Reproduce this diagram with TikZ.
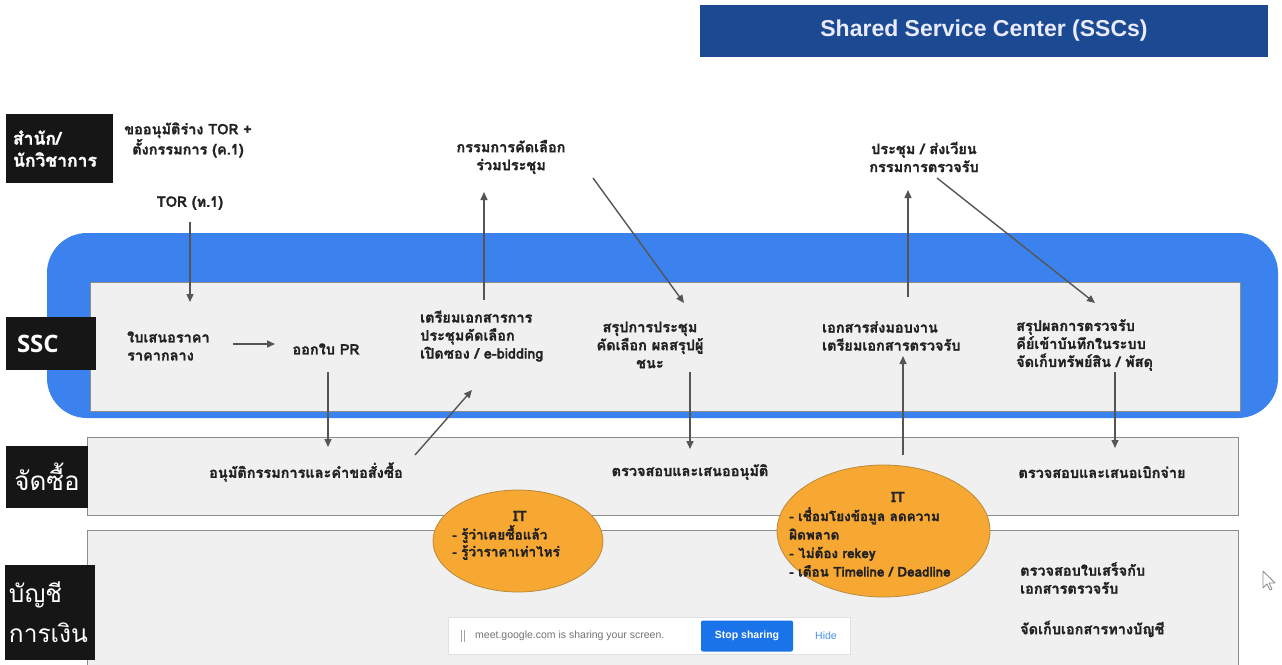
\documentclass[tikz,border=0pt]{standalone}
\usepackage{fontspec}
\setmainfont[Script=Thai, BoldFeatures={FakeBold=1.3}]{Loma}
\newfontfamily\headfont{Liberation Sans}
\newfontfamily\lblfont{Open Sans}
\usetikzlibrary{shapes.geometric,arrows.meta}

\definecolor{hdrblue}{HTML}{1B4A93}
\definecolor{sscblue}{HTML}{3B82EE}
\definecolor{rowgray}{HTML}{F0F0F0}
\definecolor{rowline}{HTML}{8C8C8C}
\definecolor{itorange}{HTML}{F6A833}
\definecolor{itline}{HTML}{B98A3E}
\definecolor{flowgray}{HTML}{555555}
\definecolor{lblblack}{HTML}{161616}
\definecolor{txtdark}{HTML}{222222}
\definecolor{meetblue}{HTML}{1A73E8}

\tikzset{
  lane/.style={fill=lblblack, text=white, inner sep=0pt, align=left},
  row/.style={fill=rowgray, draw=rowline, line width=0.8pt},
  txt/.style={font=\bfseries\fontsize{14.5}{18}\selectfont, text=txtdark, inner sep=0pt},
  flow/.style={draw=flowgray, line width=1.4pt, -{Triangle[length=8pt,width=7pt]}},
  itbubble/.style={ellipse, fill=itorange, draw=itline, line width=0.8pt, inner sep=0pt},
}

\begin{document}
\begin{tikzpicture}[x=1pt,y=-1pt]
\useasboundingbox[fill=white] (0,0) rectangle (1282,664);

% title bar
\node[fill=hdrblue, minimum width=568pt, minimum height=52pt, inner sep=0pt,
      text=white!92!blue, font=\headfont\bfseries\fontsize{23}{26}\selectfont]
  (title) at (984,31) {Shared Service Center (SSCs)};

% SSC band and lanes
\fill[sscblue, rounded corners=40pt] (47,233) rectangle (1278,418);
\draw[row] (90,282) rectangle (1240,411);
\draw[row] (87,437) rectangle (1238,515);
\draw[row] (87,530) rectangle (1238,680);

% lane labels
\node[lane, minimum width=107pt, minimum height=69pt, text width=93pt,
      font=\bfseries\fontsize{17.5}{22}\selectfont] (office) at (59.5,148.5) {สำนัก/\\นักวิชาการ};
\node[lane, minimum width=90pt, minimum height=53pt, text width=68pt,
      font=\lblfont\bfseries\fontsize{24}{25}\selectfont] (ssc) at (51,343.5) {SSC};
\node[lane, minimum width=82pt, minimum height=62pt, align=center,
      font=\fontsize{26}{30}\selectfont] (proc) at (47,477) {จัดซื้อ};
\node[lane, minimum width=90pt, minimum height=95pt, text width=82pt,
      font=\fontsize{24.5}{40}\selectfont] (acct) at (50,612) {บัญชี\\การเงิน};

% texts above the SSC band
\node[txt, align=center] (req) at (188,140) {ขออนุมัติร่าง TOR +\\ตั้งกรรมการ (ค.1)};
\node[txt] (tor) at (190,203) {TOR (ท.1)};
\node[txt, align=center] (cmte) at (511,157) {กรรมการคัดเลือก\\ร่วมประชุม};
\node[txt, align=center] (meet) at (924,157) {ประชุม / ส่งเวียน\\กรรมการตรวจรับ};

% SSC lane steps
\node[txt, align=left, anchor=west] (quote) at (127,346) {ใบเสนอราคา\\ราคากลาง};
\node[txt] (pr) at (326,349) {ออกใบ PR};
\node[txt, align=left, anchor=west] (prep) at (420,336) {เตรียมเอกสารการ\\ประชุมคัดเลือก\\เปิดซอง / e-bidding};
\node[txt, align=center] (summ) at (650,345) {สรุปการประชุม\\คัดเลือก ผลสรุปผู้\\ชนะ};
\node[txt, align=left, anchor=west] (deliv) at (822,336) {เอกสารส่งมอบงาน\\เตรียมเอกสารตรวจรับ};
\node[txt, align=left, anchor=west] (insp) at (1016,345) {สรุปผลการตรวจรับ\\คีย์เข้าบันทึกในระบบ\\จัดเก็บทรัพย์สิน / พัสดุ};

% procurement lane
\node[txt] (approve) at (306,472) {อนุมัติกรรมการและคำขอสั่งซื้อ};
\node[txt] (check) at (690,472) {ตรวจสอบและเสนออนุมัติ};
\node[txt] (disb) at (1102,472) {ตรวจสอบและเสนอเบิกจ่าย};

% accounting lane
\node[txt, align=left, anchor=west] (receipt) at (1020,578) {ตรวจสอบใบเสร็จกับ\\เอกสารตรวจรับ};
\node[txt, anchor=west] (archive) at (1020,629) {จัดเก็บเอกสารทางบัญชี};

% IT support bubbles
\node[itbubble, minimum width=170pt, minimum height=102pt] (it1) at (518,541) {};
\node[txt] (it1t) at (520,516) {IT};
\node[txt, align=left, anchor=north west, text width=140pt,
      font=\bfseries\fontsize{13.5}{17}\selectfont] (it1b) at (452,525) {- รู้ว่าเคยซื้อแล้ว\\- รู้ว่าราคาเท่าไหร่};

\node[itbubble, minimum width=213pt, minimum height=132pt] (it2) at (883.5,531) {};
\node[txt] (it2t) at (898,497) {IT};
\node[txt, align=left, anchor=north west, text width=200pt,
      font=\bfseries\fontsize{13.5}{18.5}\selectfont] (it2b) at (789,507) {- เชื่อมโยงข้อมูล ลดความ\\ผิดพลาด\\- ไม่ต้อง rekey\\- เตือน Timeline / Deadline};

% arrow end points
\coordinate (torEnd) at (190,302);
\coordinate (quoteR) at (233,344);
\coordinate (prL) at (275,344);
\coordinate (prDown) at (328,372);
\coordinate (apprIn) at (328,447);
\coordinate (apprOut) at (415,455);
\coordinate (prepIn) at (472,390);
\coordinate (prepUp) at (484,300);
\coordinate (cmteIn) at (484,192);
\coordinate (cmteOut) at (593,178);
\coordinate (summIn) at (684,303);
\coordinate (summDown) at (690,372);
\coordinate (checkIn) at (690,449);
\coordinate (itUp) at (903,455);
\coordinate (delivIn) at (903,356);
\coordinate (delivUp) at (908,297);
\coordinate (meetIn) at (908,190);
\coordinate (meetOut) at (937,178);
\coordinate (inspIn) at (1095,303);
\coordinate (inspDown) at (1115,372);
\coordinate (disbIn) at (1115,448);

% flow arrows
\draw[flow] (tor.south |- 0,222) -- (torEnd);
\draw[flow] (quoteR) -- (prL);
\draw[flow] (prDown) -- (apprIn);
\draw[flow] (apprOut) -- (prepIn);
\draw[flow] (prepUp) -- (cmteIn);
\draw[flow] (cmteOut) -- (summIn);
\draw[flow] (summDown) -- (checkIn);
\draw[flow] (itUp) -- (delivIn);
\draw[flow] (delivUp) -- (meetIn);
\draw[flow] (meetOut) -- (inspIn);
\draw[flow] (inspDown) -- (disbIn);

% screen-sharing bar
\node[fill=white, draw=black!12, line width=0.8pt, minimum width=402pt, minimum height=37pt, inner sep=0pt] (share) at (649,635.5) {};
\draw[black!35, line width=0.8pt] (461,630) -- (461,642) (464,630) -- (464,642);
\node[anchor=west, inner sep=0pt, text=black!55, font=\headfont\fontsize{10.5}{12}\selectfont] (shareTxt) at (475,636) {meet.google.com is sharing your screen.};
\node[fill=meetblue, rounded corners=2pt, minimum width=92pt, minimum height=31pt, inner sep=0pt,
      text=white, font=\headfont\bfseries\fontsize{10.5}{12}\selectfont] (stop) at (747,636) {Stop sharing};
\node[inner sep=0pt, text=meetblue!80, font=\headfont\fontsize{10.5}{12}\selectfont] (hide) at (826,636) {Hide};

% mouse pointer
\draw[black!45, line width=0.8pt, fill=white, line join=round]
  (1263,571) -- (1263,588) -- (1267,584) -- (1270,590) -- (1272,589) -- (1269,583) -- (1275,583) -- cycle;
\end{tikzpicture}
\end{document}
